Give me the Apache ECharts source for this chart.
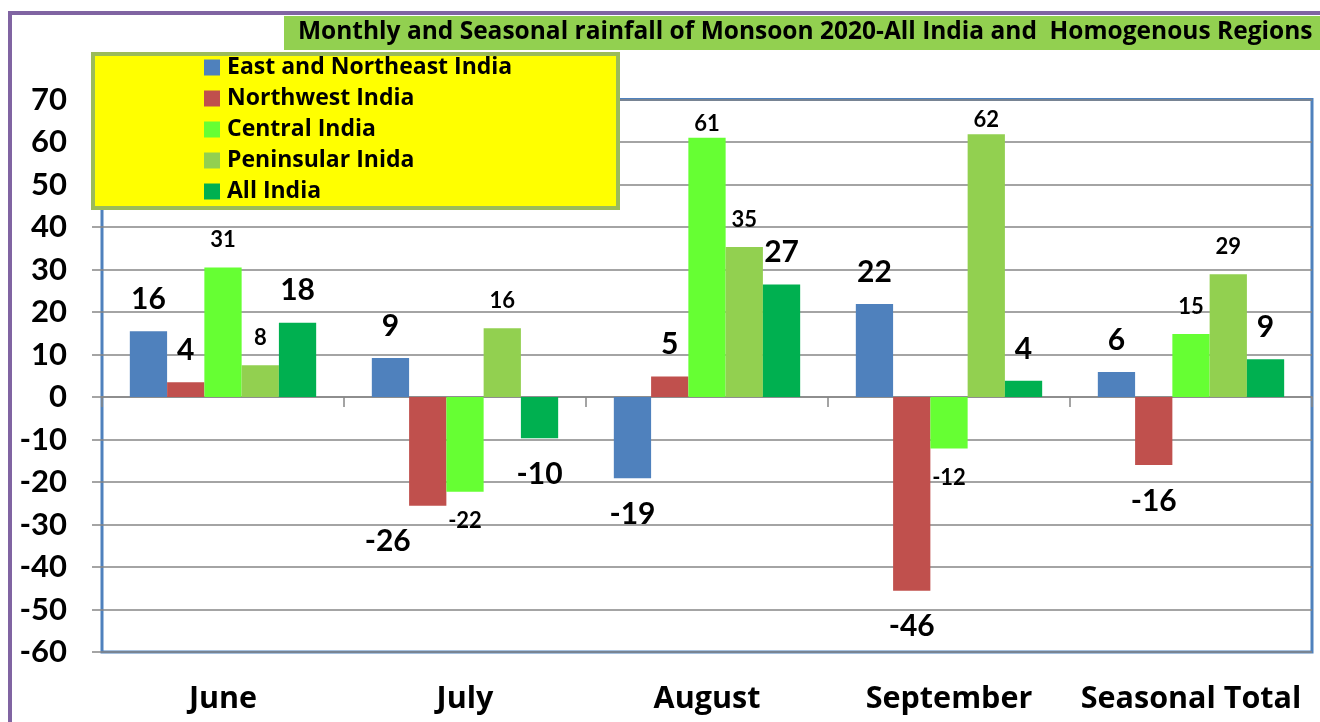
<!DOCTYPE html>
<html>
<head>
<meta charset="utf-8">
<title>Monsoon 2020 rainfall</title>
<script src="https://cdn.jsdelivr.net/npm/echarts@6/dist/echarts.min.js"></script>
<style>
  html, body { margin: 0; padding: 0; background: #fff; }
  #chart { width: 1320px; height: 722px; }
</style>
</head>
<body>
<div id="chart"></div>
<script>
// departures from normal (%)
const categories = ['June', 'July', 'August', 'September', 'Seasonal Total'];
const seriesNames = ['East and Northeast India', 'Northwest India', 'Central India', 'Peninsular Inida', 'All India'];
const eastNE = [15.5, 9.2, -19.1, 21.9, 5.9];
const northwest = [3.5, -25.6, 4.8, -45.6, -16.0];
const central = [30.5, -22.3, 61.0, -12.1, 14.8];
const peninsular = [7.5, 16.2, 35.3, 61.8, 28.9];
const allIndia = [17.5, -9.7, 26.5, 3.8, 8.9];
const yTicks = { min: -60, max: 70, step: 10 };

const colors = ['#4f81bd', '#c0504d', '#66ff33', '#92d050', '#00b050'];
const FONT = '"Open Sans"';
const NUMFONT = 'Lato';
const chart = echarts.init(document.getElementById('chart'));

// big labels for some series, small for the others (as in the original sheet)
const bigLabel = [true, true, false, false, true];
// a few labels were nudged by hand in the original
const labelTweaks = {
    '1:1': { offset: [-40, 0] },
    '2:2': { distance: 3 },
    '3:3': { distance: 3 }
};

function buildSeries(name, values, idx) {
    return {
        name: name,
        type: 'bar',
        barGap: '0%',
        barCategoryGap: '23%',
        itemStyle: { color: colors[idx] },
        data: values.map(function (v, i) {
            const big = bigLabel[idx];
            const label = {
                show: true,
                position: v >= 0 ? 'top' : 'bottom',
                distance: v >= 0 ? (big ? 17 : 16) : (big ? 21 : 18),
                fontFamily: NUMFONT,
                fontWeight: 'bold',
                fontSize: big ? 30 : 22,
                color: '#000',
                formatter: function (p) { return Math.round(p.value); }
            };
            Object.assign(label, labelTweaks[idx + ':' + i] || {});
            return { value: v, label: label };
        })
    };
}

chart.setOption({
    animation: false,
    title: {
        text: 'Monthly and Seasonal rainfall of Monsoon 2020-All India and  Homogenous Regions',
        left: 298,
        top: 20,
        padding: 0,
        textStyle: { fontFamily: FONT, fontWeight: 'bold', fontSize: 24.5, color: '#000' }
    },
    legend: {
        orient: 'vertical',
        left: 204,
        top: 56,
        padding: 0,
        itemWidth: 16,
        itemHeight: 16,
        itemGap: 8,
        icon: 'rect',
        data: seriesNames,
        textStyle: { fontFamily: FONT, fontWeight: 'bold', fontSize: 23, lineHeight: 23, color: '#000', padding: [0, 0, 0, 2] }
    },
    graphic: [
        {
            type: 'rect', z: -10,
            shape: { x: 10, y: 13, width: 1400, height: 800 },
            style: { fill: 'none', stroke: '#8064a2', lineWidth: 4 }
        },
        {
            type: 'rect', z: -5,
            shape: { x: 284, y: 16, width: 1040, height: 34 },
            style: { fill: '#92d050' }
        },
        {
            type: 'rect', z: 3,
            shape: { x: 93, y: 54, width: 525, height: 154 },
            style: { fill: '#ffff00', stroke: '#9bbb59', lineWidth: 4 }
        }
    ],
    grid: {
        left: 102,
        right: 8,
        top: 99.5,
        bottom: 70,
        show: true,
        borderColor: '#4f81bd',
        borderWidth: 3
    },
    xAxis: [
        {
            type: 'category',
            data: categories,
            axisLine: { onZero: true, lineStyle: { color: '#868686', width: 1.5 } },
            axisTick: { show: true, interval: 0, length: 10, lineStyle: { color: '#868686', width: 1.5 } },
            axisLabel: { show: false }
        },
        {
            type: 'category',
            data: categories,
            position: 'bottom',
            axisLine: { show: false, onZero: false },
            axisTick: { show: false },
            axisLabel: {
                interval: 0,
                margin: 32,
                fontFamily: FONT,
                fontWeight: 'bold',
                fontSize: 30.5,
                color: '#000'
            }
        }
    ],
    yAxis: {
        type: 'value',
        min: yTicks.min,
        max: yTicks.max,
        interval: yTicks.step,
        axisLine: { show: false },
        axisTick: { show: true, length: 10, lineStyle: { color: '#868686', width: 1.5 } },
        splitLine: { lineStyle: { color: '#868686', width: 1.5 } },
        axisLabel: {
            margin: 35,
            fontFamily: NUMFONT,
            fontWeight: 'bold',
            fontSize: 31,
            color: '#000'
        }
    },
    series: [
        buildSeries(seriesNames[0], eastNE, 0),
        buildSeries(seriesNames[1], northwest, 1),
        buildSeries(seriesNames[2], central, 2),
        buildSeries(seriesNames[3], peninsular, 3),
        buildSeries(seriesNames[4], allIndia, 4)
    ]
});
</script>
</body>
</html>
